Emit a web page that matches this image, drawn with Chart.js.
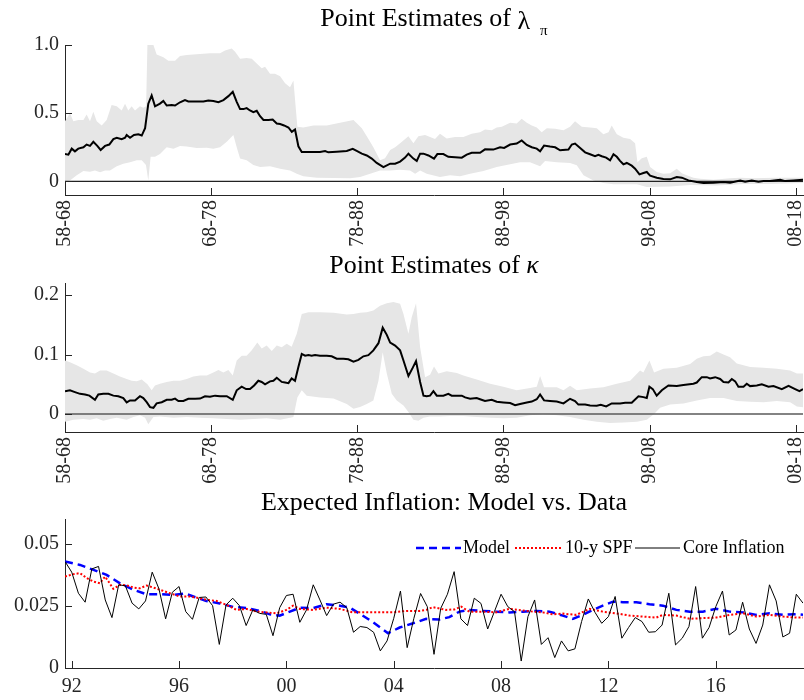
<!DOCTYPE html>
<html>
<head>
<meta charset="utf-8">
<script src="https://cdn.jsdelivr.net/npm/chart.js@4.4.1/dist/chart.umd.min.js"></script>
<style>
html,body{margin:0;padding:0;background:#fff;}
#wrap{position:relative;width:804px;height:700px;overflow:hidden;font-family:"Liberation Serif","Times New Roman",serif;color:#000;}
canvas{position:absolute;left:0;}
.title{position:absolute;left:0;text-align:center;font-size:26px;line-height:26px;white-space:nowrap;}
.lam{position:relative;top:3px;}
.sub{position:relative;top:9px;font-size:15px;margin-left:10px;}
.kap{font-style:italic;}
.leg{position:absolute;font-size:18px;line-height:18px;white-space:nowrap;color:#000;}
.legline{position:absolute;height:18px;}
</style>
</head>
<body>
<div id="wrap">
  <canvas id="c1" width="804" height="250" style="top:0px"></canvas>
  <canvas id="c2" width="804" height="250" style="top:240px"></canvas>
  <canvas id="c3" width="804" height="230" style="top:470px"></canvas>
  <div class="title" style="top:5px;width:868px">Point Estimates of <span class="lam">λ</span><span class="sub">π</span></div>
  <div class="title" style="top:252px;width:868px">Point Estimates of <span class="kap">κ</span></div>
  <div class="title" style="top:489px;width:888px">Expected Inflation: Model vs. Data</div>
  <svg class="legline" style="left:416px;top:538px" width="45" height="18"><line x1="0" y1="10" x2="45" y2="10" stroke="#0000ff" stroke-width="2.5" stroke-dasharray="8,5"/></svg>
  <div class="leg" style="left:463px;top:538px">Model</div>
  <svg class="legline" style="left:515px;top:538px" width="47" height="18"><line x1="0" y1="10" x2="47" y2="10" stroke="#ff0000" stroke-width="2" stroke-dasharray="2,2"/></svg>
  <div class="leg" style="left:565px;top:538px">10-y SPF</div>
  <svg class="legline" style="left:635px;top:538px" width="45" height="18"><line x1="0" y1="10" x2="45" y2="10" stroke="#000000" stroke-width="1"/></svg>
  <div class="leg" style="left:683px;top:538px">Core Inflation</div>
</div>
<script>
// ================= DATA =================
// Panel 1: point estimates of lambda_pi (x = end year of 10-year rolling window)
const windowTickValues = [1968, 1978, 1988, 1998, 2008, 2018];
const windowTickLabels = ["58-68", "68-78", "78-88", "88-98", "98-08", "08-18"];

const lamPointYears = [
  1968.00,1968.23,1968.46,1968.68,1968.91,1969.26,1969.48,1969.71,1969.94,1970.21,
  1970.44,1970.74,1971.03,1971.31,1971.54,1971.88,1972.11,1972.22,1972.45,1972.72,
  1973.02,1973.25,1973.48,1973.70,1973.93,1974.16,1974.50,1974.73,1974.96,1975.30,
  1975.53,1975.87,1976.21,1976.44,1976.78,1977.47,1977.81,1978.15,1978.50,1978.84,
  1979.18,1979.48,1979.75,1979.98,1980.21,1980.43,1980.66,1980.89,1981.12,1981.35,
  1981.58,1981.92,1982.21,1982.49,1982.72,1982.99,1983.29,1983.52,1983.74,1983.97,
  1984.20,1984.66,1985.45,1985.80,1986.02,1986.59,1987.28,1987.69,1987.96,1988.31,
  1988.65,1988.99,1989.33,1989.79,1990.25,1990.59,1990.93,1991.27,1991.50,1991.84,
  1992.07,1992.30,1992.53,1992.87,1993.25,1993.48,1993.89,1994.23,1995.15,1995.49,
  1995.83,1996.40,1996.74,1997.31,1997.77,1998.05,1998.46,1998.91,1999.25,1999.60,
  1999.94,2000.28,2000.51,2000.78,2001.19,2001.54,2001.88,2002.45,2002.68,2002.90,
  2003.25,2003.59,2003.93,2004.27,2004.50,2004.73,2005.03,2005.30,2005.53,2005.76,
  2005.98,2006.21,2006.44,2006.78,2007.01,2007.31,2007.58,2007.81,2008.04,2008.49,
  2008.95,2009.41,2009.86,2010.21,2010.66,2011.23,2011.69,2012.37,2013.06,2013.51,
  2014.20,2014.54,2014.99,2015.45,2015.80,2016.25,2016.94,2017.28,2017.85,2018.50
];
const lamPoint = [
  0.200,0.196,0.240,0.220,0.240,0.250,0.270,0.260,0.290,0.260,
  0.230,0.260,0.270,0.310,0.320,0.310,0.320,0.340,0.320,0.340,
  0.345,0.336,0.390,0.570,0.630,0.550,0.570,0.590,0.556,0.560,
  0.556,0.580,0.596,0.586,0.586,0.586,0.593,0.590,0.580,0.596,
  0.625,0.657,0.583,0.530,0.530,0.537,0.520,0.507,0.517,0.478,
  0.450,0.450,0.453,0.424,0.420,0.410,0.395,0.363,0.380,0.257,
  0.216,0.216,0.216,0.223,0.213,0.218,0.223,0.238,0.223,0.203,
  0.190,0.167,0.135,0.105,0.130,0.130,0.145,0.174,0.203,0.167,
  0.150,0.203,0.203,0.190,0.167,0.200,0.200,0.180,0.174,0.196,
  0.210,0.210,0.235,0.233,0.250,0.245,0.270,0.277,0.300,0.267,
  0.250,0.240,0.220,0.262,0.255,0.250,0.228,0.233,0.270,0.277,
  0.245,0.213,0.199,0.184,0.194,0.184,0.174,0.154,0.199,0.180,
  0.150,0.125,0.135,0.115,0.093,0.051,0.061,0.069,0.042,0.027,
  0.017,0.015,0.032,0.027,0.007,-0.005,-0.012,-0.010,-0.005,-0.010,
  0.007,-0.002,0.007,-0.002,0.002,0.002,0.012,0.002,0.007,0.012
];
const lamUpperYears = [
  1968.00,1968.34,1968.57,1968.91,1969.26,1969.48,1969.71,1969.94,1970.17,1970.51,
  1970.85,1971.19,1971.54,1971.88,1972.11,1972.33,1972.56,1972.79,1973.13,1973.36,
  1973.55,1973.64,1974.05,1974.27,1974.73,1975.07,1975.53,1975.87,1976.33,1977.24,
  1977.92,1978.61,1978.95,1979.41,1979.64,1979.98,1980.43,1980.78,1981.12,1981.46,
  1981.69,1982.03,1982.37,1982.72,1983.06,1983.40,1983.63,1983.90,1984.31,1985.00,
  1985.91,1986.82,1987.74,1988.31,1988.65,1989.10,1989.56,1989.90,1990.25,1990.59,
  1990.93,1991.50,1991.84,1992.18,1992.64,1993.32,1993.66,1994.12,1994.69,1995.26,
  1995.83,1996.40,1996.74,1997.20,1997.54,1997.89,1998.46,1998.91,1999.25,1999.60,
  1999.94,2000.28,2000.62,2000.97,2001.54,2002.11,2002.56,2002.90,2003.36,2003.93,
  2004.39,2004.84,2005.19,2005.41,2005.76,2006.21,2006.67,2007.01,2007.17,2007.47,
  2007.81,2008.04,2008.49,2008.95,2009.41,2009.86,2010.21,2010.55,2011.00,2011.46,
  2012.37,2013.51,2014.20,2015.11,2015.80,2016.71,2017.62,2018.50
];
const lamUpper = [
  0.44,0.50,0.44,0.45,0.45,0.49,0.44,0.51,0.44,0.41,
  0.45,0.56,0.55,0.52,0.57,0.52,0.55,0.52,0.55,0.54,
  0.55,1.00,1.00,0.93,0.91,0.885,0.885,0.92,0.926,0.934,
  0.94,0.94,0.96,0.975,0.95,0.90,0.905,0.90,0.865,0.83,
  0.84,0.79,0.79,0.77,0.72,0.69,0.74,0.40,0.395,0.41,
  0.41,0.43,0.45,0.39,0.33,0.25,0.155,0.17,0.23,0.25,
  0.28,0.33,0.28,0.33,0.34,0.31,0.35,0.315,0.326,0.326,
  0.35,0.36,0.38,0.375,0.395,0.40,0.43,0.425,0.46,0.43,
  0.41,0.395,0.36,0.39,0.385,0.375,0.40,0.44,0.40,0.395,
  0.39,0.345,0.36,0.41,0.345,0.32,0.31,0.28,0.14,0.17,
  0.18,0.105,0.069,0.056,0.06,0.093,0.06,0.044,0.027,0.02,
  0.012,0.022,0.027,0.022,0.025,0.027,0.027,0.027
];
const lamLowerYears = [
  1968.00,1968.34,1968.80,1969.26,1969.71,1970.05,1970.40,1970.74,1971.08,1971.54,
  1971.99,1972.45,1972.91,1973.25,1973.54,1973.70,1973.86,1974.16,1974.50,1974.96,
  1975.42,1975.87,1976.33,1977.01,1977.70,1978.15,1978.61,1979.07,1979.52,1979.75,
  1979.98,1980.43,1980.89,1981.35,1982.03,1982.72,1983.40,1983.86,1984.31,1985.23,
  1986.37,1987.51,1988.19,1988.88,1989.56,1990.25,1990.93,1991.61,1991.96,1992.30,
  1992.75,1993.66,1994.35,1995.03,1995.72,1996.63,1997.54,1998.46,1999.14,1999.82,
  2000.51,2000.85,2001.65,2002.56,2003.02,2003.48,2004.16,2004.84,2005.53,2007.13,
  2007.81,2009.41,2010.78,2012.60,2014.43,2016.25,2018.50
];
const lamLower = [
  -0.005,0.007,0.044,0.076,0.07,0.08,0.066,0.08,0.08,0.11,
  0.13,0.14,0.155,0.155,0.12,0.007,0.18,0.18,0.20,0.25,
  0.24,0.26,0.255,0.245,0.247,0.24,0.25,0.29,0.34,0.25,
  0.167,0.155,0.12,0.105,0.11,0.093,0.08,0.056,0.037,0.027,
  0.025,0.022,0.032,0.056,0.08,0.08,0.086,0.08,0.056,0.08,
  0.056,0.032,0.044,0.037,0.056,0.076,0.105,0.125,0.14,0.14,
  0.11,0.15,0.14,0.135,0.118,0.044,0.007,-0.012,-0.022,-0.022,
  -0.042,-0.037,-0.027,-0.03,-0.02,-0.02,-0.012
];
const lamYTicks = [0, 0.5, 1.0];
const lamYLabels = ["0", "0.5", "1.0"];

// Panel 2: point estimates of kappa
const kapPointYears = [
  1968.00,1968.34,1968.68,1969.03,1969.37,1969.67,1970.05,1970.28,1970.62,1970.97,
  1971.31,1971.65,1971.99,1972.22,1972.45,1972.79,1973.13,1973.36,1973.59,1973.82,
  1974.05,1974.27,1974.62,1974.96,1975.30,1975.53,1975.76,1976.10,1976.44,1976.90,
  1977.24,1977.58,1977.92,1978.27,1978.61,1979.07,1979.48,1979.75,1980.09,1980.39,
  1980.66,1980.94,1981.23,1981.46,1981.69,1982.03,1982.26,1982.49,1982.83,1983.06,
  1983.29,1983.51,1983.74,1983.97,1984.20,1984.43,1984.66,1984.88,1985.11,1985.45,
  1985.91,1986.25,1986.59,1987.05,1987.39,1987.74,1988.08,1988.42,1988.76,1989.10,
  1989.45,1989.74,1990.02,1990.25,1990.59,1990.93,1991.16,1991.50,1991.80,1992.02,
  1992.30,1992.53,1992.75,1992.98,1993.21,1993.44,1993.89,1994.23,1994.46,1994.81,
  1995.15,1995.38,1995.72,1996.17,1996.40,1996.74,1997.20,1997.54,1998.00,1998.46,
  1998.80,1999.14,1999.60,1999.94,2000.28,2000.51,2000.78,2001.19,2001.65,2002.11,
  2002.56,2002.90,2003.13,2003.59,2003.93,2004.39,2004.66,2005.03,2005.41,2005.98,
  2006.33,2006.78,2007.24,2007.58,2007.81,2007.99,2008.22,2008.49,2008.84,2009.29,
  2009.86,2010.32,2011.00,2011.23,2011.57,2011.92,2012.14,2012.49,2012.83,2013.06,
  2013.40,2013.63,2013.86,2014.08,2014.43,2014.65,2014.88,2015.34,2015.68,2016.14,
  2016.48,2017.05,2017.51,2017.96,2018.26,2018.50
];
const kapPoint = [
  0.0385,0.040,0.037,0.034,0.033,0.031,0.024,0.033,0.034,0.034,
  0.031,0.030,0.027,0.0196,0.023,0.023,0.030,0.027,0.020,0.0117,
  0.0106,0.018,0.020,0.024,0.024,0.026,0.022,0.022,0.0257,0.0257,
  0.026,0.030,0.029,0.031,0.030,0.030,0.024,0.040,0.046,0.042,
  0.042,0.048,0.056,0.054,0.050,0.055,0.056,0.061,0.054,0.053,
  0.052,0.060,0.056,0.079,0.101,0.098,0.099,0.098,0.099,0.098,
  0.098,0.097,0.093,0.093,0.092,0.088,0.091,0.097,0.099,0.107,
  0.119,0.145,0.133,0.120,0.115,0.107,0.090,0.064,0.078,0.089,
  0.054,0.031,0.030,0.031,0.0385,0.031,0.031,0.034,0.031,0.031,
  0.031,0.028,0.0257,0.027,0.025,0.022,0.024,0.0207,0.0196,0.0185,
  0.015,0.017,0.0196,0.021,0.025,0.033,0.023,0.022,0.021,0.018,
  0.0257,0.022,0.016,0.016,0.0145,0.014,0.0156,0.013,0.018,0.018,
  0.019,0.019,0.030,0.0285,0.027,0.046,0.042,0.031,0.040,0.048,
  0.047,0.049,0.051,0.053,0.062,0.062,0.060,0.062,0.059,0.054,
  0.053,0.059,0.055,0.046,0.046,0.051,0.047,0.048,0.050,0.046,
  0.047,0.042,0.0475,0.042,0.0385,0.042
];
const kapUpperYears = [
  1968.00,1968.34,1968.80,1969.26,1969.71,1970.05,1970.40,1970.85,1971.31,1971.76,
  1972.22,1972.56,1972.91,1973.25,1973.64,1973.93,1974.16,1974.50,1974.96,1975.42,
  1975.87,1976.33,1976.78,1977.24,1977.70,1978.15,1978.50,1978.84,1979.18,1979.48,
  1979.75,1980.09,1980.43,1980.78,1981.16,1981.46,1981.80,1982.15,1982.49,1982.83,
  1983.17,1983.51,1983.86,1984.20,1984.66,1985.45,1986.37,1987.28,1987.74,1988.19,
  1988.65,1989.10,1989.56,1990.02,1990.47,1990.93,1991.16,1991.50,1991.73,1992.02,
  1992.30,1992.64,1992.98,1993.25,1993.55,1994.12,1994.81,1995.26,1996.17,1997.09,
  1998.00,1998.91,1999.82,2000.28,2000.51,2000.78,2001.65,2002.11,2002.56,2003.02,
  2003.93,2004.84,2005.76,2006.67,2007.35,2007.58,2007.99,2008.31,2008.95,2009.86,
  2010.78,2011.23,2011.69,2012.14,2012.60,2013.06,2013.51,2013.97,2014.43,2014.88,
  2015.80,2016.71,2017.62,2018.08,2018.50
];
const kapUpper = [
  0.090,0.087,0.082,0.076,0.070,0.068,0.073,0.073,0.068,0.063,
  0.059,0.056,0.055,0.058,0.050,0.040,0.048,0.051,0.054,0.056,
  0.056,0.059,0.063,0.065,0.065,0.070,0.074,0.070,0.074,0.065,
  0.090,0.098,0.098,0.107,0.120,0.110,0.115,0.106,0.115,0.112,
  0.118,0.113,0.135,0.168,0.171,0.171,0.170,0.167,0.168,0.170,
  0.171,0.174,0.182,0.186,0.188,0.185,0.168,0.135,0.163,0.186,
  0.112,0.062,0.066,0.080,0.068,0.072,0.069,0.065,0.058,0.051,
  0.046,0.040,0.044,0.046,0.064,0.045,0.045,0.040,0.0475,0.040,
  0.043,0.045,0.051,0.056,0.073,0.070,0.090,0.070,0.076,0.078,
  0.084,0.093,0.097,0.098,0.105,0.100,0.0955,0.085,0.082,0.079,
  0.078,0.076,0.073,0.068,0.068
];
const kapLowerYears = [
  1968.00,1968.57,1969.26,1969.71,1970.17,1970.62,1971.08,1971.54,1972.22,1972.68,
  1973.13,1973.48,1973.70,1974.05,1974.50,1975.42,1976.33,1977.24,1978.15,1979.07,
  1979.98,1980.89,1981.80,1982.72,1983.40,1983.63,1983.90,1984.20,1984.54,1985.45,
  1986.37,1987.28,1987.74,1988.19,1988.65,1989.10,1989.45,1989.74,1990.02,1990.36,
  1990.70,1991.16,1991.50,1991.84,1992.18,1992.53,1992.98,1993.66,1994.35,1995.26,
  1996.17,1997.09,1998.00,1998.91,1999.82,2000.74,2001.65,2002.56,2003.48,2004.39,
  2005.30,2006.21,2007.13,2007.81,2008.31,2008.72,2009.41,2010.32,2011.23,2012.14,
  2013.06,2013.97,2014.88,2015.80,2016.71,2017.62,2018.08,2018.50
];
const kapLower = [
  -0.013,-0.0095,-0.008,-0.0095,-0.007,-0.011,-0.008,-0.006,-0.0095,-0.005,
  -0.002,-0.006,-0.017,-0.005,-0.004,-0.006,-0.005,-0.006,-0.007,-0.008,
  -0.0095,-0.008,-0.007,-0.0095,-0.006,-0.005,0.028,0.040,0.031,0.028,
  0.026,0.017,0.009,0.012,0.017,0.023,0.056,0.104,0.068,0.034,
  0.023,0.0145,0.0034,-0.0095,-0.011,-0.006,-0.004,-0.004,-0.003,-0.003,
  -0.005,-0.006,-0.007,-0.006,-0.002,0.000,-0.002,-0.005,-0.0095,-0.013,
  -0.015,-0.014,-0.013,-0.0095,0.000,0.0106,0.016,0.018,0.023,0.027,
  0.027,0.022,0.0207,0.020,0.022,0.020,0.0128,0.0117
];
const kapYTicks = [0, 0.1, 0.2];
const kapYLabels = ["0", "0.1", "0.2"];

// Panel 3: expected inflation, model vs data (quarterly, 1991Q4 - 2019Q2)
const coreStart = 1991.75;
const coreInflation = [
  0.0429,0.0386,0.0301,0.0265,0.0399,0.0409,0.0274,0.0203,0.0335,0.0331,
  0.0261,0.0238,0.0270,0.0386,0.0319,0.0198,0.0305,0.0328,0.0227,0.0196,
  0.0284,0.0286,0.0251,0.0095,0.0254,0.0281,0.0251,0.0171,0.0234,0.0220,
  0.0216,0.0130,0.0243,0.0292,0.0297,0.0184,0.0234,0.0335,0.0274,0.0211,
  0.0257,0.0265,0.0243,0.0144,0.0167,0.0163,0.0144,0.0069,0.0109,0.0200,
  0.0310,0.0082,0.0200,0.0300,0.0247,0.0055,0.0240,0.0297,0.0388,0.0198,
  0.0171,0.0281,0.0260,0.0157,0.0227,0.0297,0.0247,0.0227,0.0028,0.0207,
  0.0274,0.0095,0.0122,0.0042,0.0109,0.0069,0.0077,0.0187,0.0278,0.0224,
  0.0180,0.0207,0.0288,0.0120,0.0163,0.0203,0.0187,0.0144,0.0146,0.0173,
  0.0301,0.0093,0.0120,0.0167,0.0328,0.0120,0.0163,0.0247,0.0310,0.0133,
  0.0153,0.0265,0.0157,0.0099,0.0173,0.0335,0.0270,0.0125,0.0140,0.0297,
  0.0261
];
const coreQuarters = coreInflation.map((_, i) => coreStart + 0.25 * i);

const modelYears = [
  1991.75,1992.31,1992.81,1993.30,1993.80,1994.30,1994.79,1995.29,1995.78,1996.22,
  1996.53,1997.02,1997.52,1998.02,1998.51,1999.01,1999.38,1999.75,2000.13,2000.50,
  2000.99,2001.49,2001.99,2002.36,2002.73,2003.23,2003.79,2004.22,2004.72,2005.21,
  2005.70,2006.07,2006.45,2006.82,2007.32,2007.81,2008.31,2008.81,2009.31,2009.80,
  2010.30,2010.67,2011.05,2011.42,2011.79,2012.17,2012.54,2013.04,2013.53,2014.03,
  2014.53,2015.03,2015.52,2016.02,2016.52,2017.02,2017.51,2018.01,2018.51,2019.01,
  2019.25
];
const modelExpected = [
  0.0429,0.0415,0.0395,0.0375,0.0341,0.0315,0.0297,0.0297,0.0294,0.0300,
  0.0288,0.0270,0.0260,0.0246,0.0241,0.0230,0.0216,0.0211,0.0227,0.0243,
  0.0241,0.0257,0.0251,0.0243,0.0219,0.0184,0.0140,0.0163,0.0180,0.0198,
  0.0195,0.0205,0.0227,0.0234,0.0230,0.0227,0.0224,0.0227,0.0230,0.0227,
  0.0211,0.0198,0.0214,0.0234,0.0251,0.0267,0.0265,0.0265,0.0257,0.0251,
  0.0234,0.0227,0.0227,0.0238,0.0227,0.0224,0.0214,0.0220,0.0214,0.0217,
  0.0214
];
const spfYears = [
  1991.75,1992.06,1992.31,1992.56,1992.81,1993.05,1993.24,1993.36,1993.55,1993.80,
  1994.05,1994.30,1994.54,1994.79,1995.04,1995.29,1995.66,1996.03,1996.40,1996.78,
  1997.02,1997.40,1997.77,1998.14,1998.51,1998.89,1999.26,1999.63,2000.00,2000.25,
  2000.50,2000.99,2001.49,2001.99,2002.48,2002.98,2003.48,2003.97,2004.47,2004.96,
  2005.21,2005.46,2005.95,2006.26,2006.51,2006.82,2007.32,2007.81,2008.31,2008.81,
  2009.18,2009.55,2009.93,2010.30,2010.80,2011.30,2011.79,2012.29,2012.79,2013.29,
  2013.78,2014.03,2014.53,2015.03,2015.52,2016.02,2016.52,2017.02,2017.51,2018.01,
  2018.51,2019.01,2019.25
];
const spf10y = [
  0.0368,0.0378,0.0382,0.0362,0.0348,0.0341,0.0368,0.0350,0.0319,0.0335,
  0.0333,0.0324,0.0321,0.0332,0.0324,0.0315,0.0301,0.0288,0.0288,0.0281,
  0.0275,0.0270,0.0254,0.0234,0.0238,0.0227,0.0224,0.0220,0.0234,0.0251,
  0.0238,0.0234,0.0243,0.0238,0.0224,0.0224,0.0224,0.0224,0.0230,0.0230,
  0.0234,0.0245,0.0234,0.0236,0.0247,0.0227,0.0227,0.0224,0.0238,0.0232,
  0.0227,0.0224,0.0216,0.0219,0.0214,0.0238,0.0227,0.0220,0.0211,0.0207,
  0.0203,0.0214,0.0211,0.0198,0.0201,0.0203,0.0214,0.0220,0.0207,0.0214,
  0.0207,0.0203,0.0203
];
const yearTickValues = [1992, 1996, 2000, 2004, 2008, 2012, 2016];
const yearTickLabels = ["92", "96", "00", "04", "08", "12", "16"];
const infYTicks = [0, 0.025, 0.05];
const infYLabels = ["0", "0.025", "0.05"];

// ================= DRAWING =================
const FONT = '"Liberation Serif", "Times New Roman", serif';
const AXIS = '#262626';
const TICKCOL = '#262626';
const BAND = '#e6e6e6';

const pts = (xs, ys) => xs.map((x, i) => ({x: x, y: ys[i]}));

const inwardTicks = {
  id: 'inwardTicks',
  afterDraw(chart) {
    const {ctx, chartArea: a, scales: {x, y}} = chart;
    ctx.save();
    ctx.strokeStyle = AXIS;
    ctx.lineWidth = 1;
    ctx.beginPath();
    x.ticks.forEach(t => {
      const px = Math.round(x.getPixelForValue(t.value)) + 0.5;
      ctx.moveTo(px, a.bottom); ctx.lineTo(px, a.bottom - 7);
    });
    y.ticks.forEach(t => {
      const py = Math.round(y.getPixelForValue(t.value)) + 0.5;
      ctx.moveTo(a.left, py); ctx.lineTo(a.left + 7, py);
    });
    ctx.stroke();
    ctx.restore();
  }
};

const zeroLine = {
  id: 'zeroLine',
  beforeDatasetDraw(chart, args, opts) {
    if (!opts.enabled || args.index !== 0) return;
    const {ctx, chartArea: a, scales: {y}} = chart;
    const py = y.getPixelForValue(0);
    ctx.save();
    ctx.strokeStyle = opts.color;
    ctx.lineWidth = opts.width;
    ctx.beginPath();
    ctx.moveTo(a.left, py); ctx.lineTo(a.right, py);
    ctx.stroke();
    ctx.restore();
  }
};

function makeOptions(cfg) {
  return {
    responsive: false,
    animation: false,
    events: [],
    layout: {padding: {top: cfg.padTop, right: 1, left: 0, bottom: 0}},
    plugins: {
      legend: {display: false},
      tooltip: {enabled: false},
      zeroLine: cfg.zero || {enabled: false}
    },
    scales: {
      x: {
        type: 'linear', min: cfg.xMin, max: cfg.xMax,
        afterBuildTicks: s => { s.ticks = cfg.xTicks.map(v => ({value: v})); },
        afterFit: s => { s.height = cfg.xAxisH; s.paddingLeft = 0; s.paddingRight = 0; },
        grid: {display: false, drawTicks: false},
        border: {display: true, color: AXIS, width: 1},
        ticks: {
          autoSkip: false, maxRotation: cfg.xRot, minRotation: cfg.xRot, padding: cfg.xPad,
          color: TICKCOL, font: {family: FONT, size: 20},
          callback: (v, i) => cfg.xLabels[i]
        }
      },
      y: {
        type: 'linear', min: cfg.yMin, max: cfg.yMax,
        afterBuildTicks: s => { s.ticks = cfg.yTicks.map(v => ({value: v})); },
        afterFit: s => { s.width = 65; s.paddingTop = 0; s.paddingBottom = 0; },
        grid: {display: false, drawTicks: false},
        border: {display: true, color: AXIS, width: 1},
        ticks: {
          autoSkip: false, padding: 6, color: TICKCOL, font: {family: FONT, size: 20},
          callback: (v, i) => cfg.yLabels[i]
        }
      }
    }
  };
}

function bandPanel(canvasId, point, upper, lower, cfg) {
  new Chart(document.getElementById(canvasId), {
    type: 'line',
    data: {
      datasets: [
        {data: point, borderColor: '#000', borderWidth: 2, pointRadius: 0, fill: false, tension: 0},
        {data: upper, borderColor: 'rgba(0,0,0,0)', borderWidth: 0, pointRadius: 0, fill: '+1', backgroundColor: BAND, tension: 0},
        {data: lower, borderColor: 'rgba(0,0,0,0)', borderWidth: 0, pointRadius: 0, fill: false, tension: 0}
      ]
    },
    options: makeOptions(cfg),
    plugins: [zeroLine, inwardTicks]
  });
}

bandPanel('c1',
  pts(lamPointYears, lamPoint), pts(lamUpperYears, lamUpper), pts(lamLowerYears, lamLower),
  {padTop: 45, xAxisH: 55, xMin: 1968, xMax: 2018.5, xTicks: windowTickValues, xLabels: windowTickLabels,
   xRot: 90, xPad: 5, yMin: -0.1, yMax: 1.0, yTicks: lamYTicks, yLabels: lamYLabels,
   zero: {enabled: true, color: '#222', width: 1.3}});

bandPanel('c2',
  pts(kapPointYears, kapPoint), pts(kapUpperYears, kapUpper), pts(kapLowerYears, kapLower),
  {padTop: 43, xAxisH: 58, xMin: 1968, xMax: 2018.5, xTicks: windowTickValues, xLabels: windowTickLabels,
   xRot: 90, xPad: 5, yMin: -0.03, yMax: 0.22, yTicks: kapYTicks, yLabels: kapYLabels,
   zero: {enabled: true, color: '#5a5a5a', width: 1.5}});

new Chart(document.getElementById('c3'), {
  type: 'line',
  data: {
    datasets: [
      {label: 'Core Inflation', data: pts(coreQuarters, coreInflation), borderColor: '#000', borderWidth: 1, pointRadius: 0, fill: false, tension: 0},
      {label: '10-y SPF', data: pts(spfYears, spf10y), borderColor: '#ff0000', borderWidth: 2, borderDash: [2, 2], pointRadius: 0, fill: false, tension: 0},
      {label: 'Model', data: pts(modelYears, modelExpected), borderColor: '#0000ff', borderWidth: 2.5, borderDash: [8, 5], pointRadius: 0, fill: false, tension: 0}
    ]
  },
  options: makeOptions({padTop: 49, xAxisH: 32, xMin: 1991.75, xMax: 2019.25, xTicks: yearTickValues,
    xLabels: yearTickLabels, xRot: 0, xPad: 7, yMin: 0, yMax: 0.06, yTicks: infYTicks, yLabels: infYLabels}),
  plugins: [inwardTicks]
});
</script>
</body>
</html>
